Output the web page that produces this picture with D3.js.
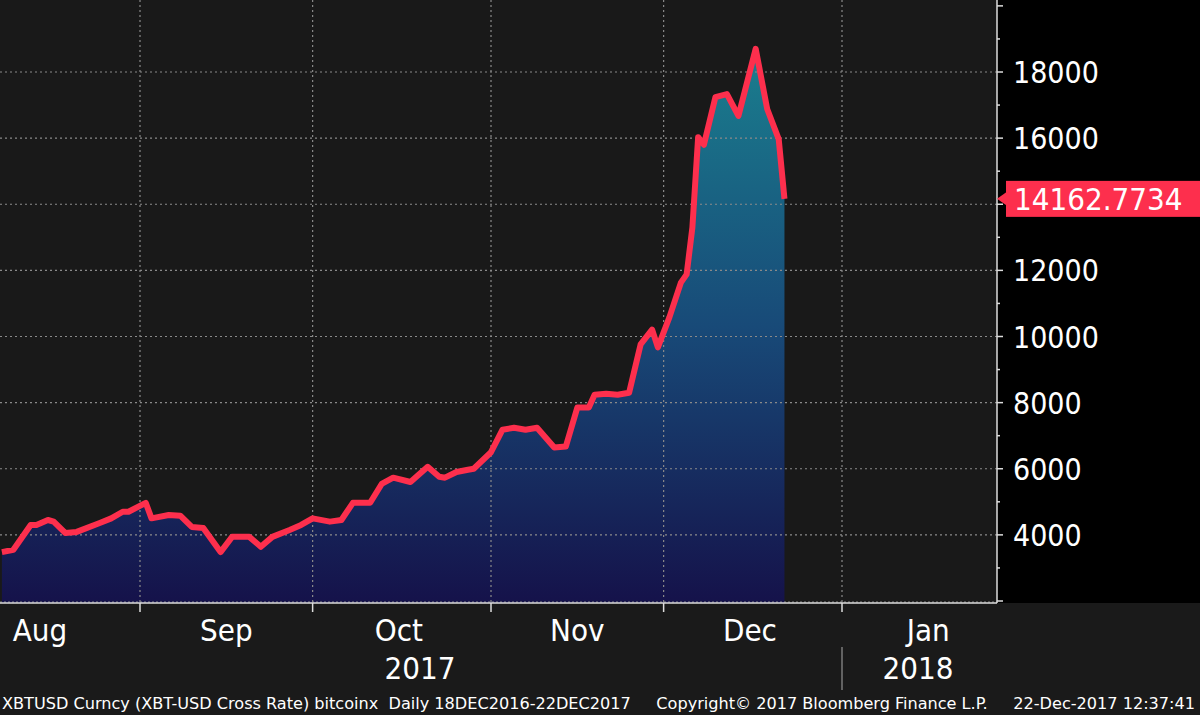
<!DOCTYPE html>
<html><head><meta charset="utf-8">
<script src="https://cdn.jsdelivr.net/npm/d3@7"></script>
<style>body{margin:0;background:#1a1a1a}svg{display:block}text{font-family:"Liberation Sans Narrow","DejaVu Sans Condensed",Arial,sans-serif}</style>
</head><body><svg id="c" width="1200" height="715"></svg>
<script>
const dates=["2017-08-08","2017-08-10","2017-08-13","2017-08-14","2017-08-16","2017-08-17","2017-08-19","2017-08-21","2017-08-25","2017-08-27","2017-08-29","2017-08-30","2017-09-02","2017-09-03","2017-09-06","2017-09-08","2017-09-10","2017-09-12","2017-09-15","2017-09-17","2017-09-20","2017-09-22","2017-09-24","2017-09-27","2017-09-29","2017-10-01","2017-10-04","2017-10-06","2017-10-08","2017-10-11","2017-10-13","2017-10-15","2017-10-18","2017-10-21","2017-10-23","2017-10-24","2017-10-26","2017-10-28","2017-10-29","2017-11-01","2017-11-03","2017-11-05","2017-11-07","2017-11-09","2017-11-12","2017-11-14","2017-11-16","2017-11-18","2017-11-19","2017-11-21","2017-11-23","2017-11-25","2017-11-27","2017-11-29","2017-11-30","2017-12-02","2017-12-04","2017-12-05","2017-12-06","2017-12-07","2017-12-08","2017-12-10","2017-12-12","2017-12-14","2017-12-17","2017-12-19","2017-12-21","2017-12-22"];
const prices=[3480,3550,4300,4300,4450,4400,4060,4090,4360,4500,4700,4700,4970,4500,4600,4580,4240,4210,3480,3940,3940,3640,3940,4150,4300,4500,4400,4450,4970,4970,5540,5730,5600,6060,5760,5730,5900,5970,6000,6500,7180,7240,7180,7240,6640,6670,7850,7850,8240,8270,8240,8300,9760,10210,9670,10580,11630,11880,13300,16030,15800,17240,17330,16670,18700,16880,15970,14162.7734];
const yTicks=[4000,6000,8000,10000,12000,14000,16000,18000];
const monthLabels=["Aug","Sep","Oct","Nov","Dec","Jan"];
const monthMids=["2017-08-16","2017-09-16","2017-10-16","2017-11-16","2017-12-16","2018-01-16"];
const monthStarts=["2017-09-01","2017-10-01","2017-11-01","2017-12-01","2018-01-01"];
const lastLabel="14162.7734";
const footer="XBTUSD Curncy (XBT-USD Cross Rate) bitcoinx  Daily 18DEC2016-22DEC2017     Copyright\u00a9 2017 Bloomberg Finance L.P.     22-Dec-2017 12:37:41";

const P=d3.timeParse("%Y-%m-%d");
const data=dates.map((d,i)=>({d:P(d),v:prices[i]}));
const svg=d3.select("#c");
const x=d3.scaleTime().domain([P("2017-09-01"),P("2018-01-01")]).range([140,842]);
const y=d3.scaleLinear().domain([2000,18000]).range([601,72]);
const R=997,B=603;
svg.append("rect").attr("x",0).attr("y",0).attr("width",R).attr("height",B).attr("fill","#191919");
svg.append("rect").attr("x",R).attr("y",0).attr("width",203).attr("height",B).attr("fill","#000");
const defs=svg.append("defs");
const g=defs.append("linearGradient").attr("id","gr").attr("gradientUnits","userSpaceOnUse").attr("x1",0).attr("y1",y(18700)).attr("x2",0).attr("y2",B);
g.append("stop").attr("offset",0).attr("stop-color","#1a7e8e");
g.append("stop").attr("offset",0.5).attr("stop-color","#184a78");
g.append("stop").attr("offset",1).attr("stop-color","#15124a");
const clip=defs.append("clipPath").attr("id","cl");clip.append("rect").attr("width",R).attr("height",B);
const area=d3.area().x(d=>x(d.d)).y0(B).y1(d=>y(d.v));
svg.append("path").datum(data).attr("d",area).attr("fill","url(#gr)").attr("clip-path","url(#cl)");
svg.selectAll(".hg").data(yTicks).join("line").attr("x1",0).attr("x2",R).attr("y1",d=>y(d)).attr("y2",d=>y(d)).attr("stroke","#8a8a8a").attr("stroke-width",1.2).attr("stroke-dasharray","2,3");
svg.selectAll(".vg").data(monthStarts).join("line").attr("x1",d=>x(P(d))).attr("x2",d=>x(P(d))).attr("y1",0).attr("y2",B).attr("stroke","#8a8a8a").attr("stroke-width",1.2).attr("stroke-dasharray","2,3");
svg.append("line").attr("x1",0).attr("x2",R).attr("y1",B-1).attr("y2",B-1).attr("stroke","#888").attr("stroke-dasharray","2,2");
svg.append("path").datum(data).attr("d",d3.line().x(d=>x(d.d)).y(d=>y(d.v))).attr("fill","none").attr("stroke","#fd2f4d").attr("stroke-width",6).attr("stroke-linejoin","round").attr("clip-path","url(#cl)");
svg.append("line").attr("x1",R).attr("x2",R).attr("y1",0).attr("y2",B).attr("stroke","#ddd").attr("stroke-width",1.5);
svg.append("line").attr("x1",0).attr("x2",R).attr("y1",B).attr("y2",B).attr("stroke","#ddd").attr("stroke-width",1.5);
const yAll=d3.range(2000,20001,1000);
svg.selectAll(".yt").data(yAll).join("line").attr("x1",R).attr("x2",d=>R+(d%2000===0?6:3)).attr("y1",d=>y(d)).attr("y2",d=>y(d)).attr("stroke","#ddd").attr("stroke-width",1.5);
svg.selectAll(".yl").data(yTicks.filter(t=>t!==14000)).join("text").attr("x",1013).attr("y",d=>y(d)+11).attr("fill","#fff").attr("font-size",30).text(d=>d);
svg.selectAll(".xt").data(monthStarts).join("line").attr("x1",d=>x(P(d))).attr("x2",d=>x(P(d))).attr("y1",B).attr("y2",B+9).attr("stroke","#ddd").attr("stroke-width",1.5);
svg.selectAll(".xl").data(monthLabels).join("text").attr("x",(d,i)=>x(P(monthMids[i]))-(i===0?8:0)).attr("y",641).attr("text-anchor","middle").attr("fill","#fff").attr("font-size",31).text(d=>d);
svg.append("text").attr("x",420).attr("y",679).attr("text-anchor","middle").attr("fill","#fff").attr("font-size",31).text("2017");
svg.append("text").attr("x",918).attr("y",679).attr("text-anchor","middle").attr("fill","#fff").attr("font-size",31).text("2018");
svg.append("line").attr("x1",842).attr("x2",842).attr("y1",647).attr("y2",690).attr("stroke","#aaa");
const lv=prices[prices.length-1];
svg.append("rect").attr("x",1006).attr("y",y(lv)-18).attr("width",194).attr("height",36).attr("fill","#fd2f4d");
svg.append("path").attr("d",`M${R} ${y(lv)} L1007 ${y(lv)-7} L1007 ${y(lv)+7}Z`).attr("fill","#fd2f4d");
svg.append("text").attr("x",1014).attr("y",y(lv)+11).attr("fill","#fff").attr("font-size",31).text(lastLabel);
svg.append("text").attr("x",2).attr("y",709).attr("fill","#fff").attr("font-size",16).attr("textLength",1193).attr("lengthAdjust","spacingAndGlyphs").style("white-space","pre").text(footer);
</script></body></html>
